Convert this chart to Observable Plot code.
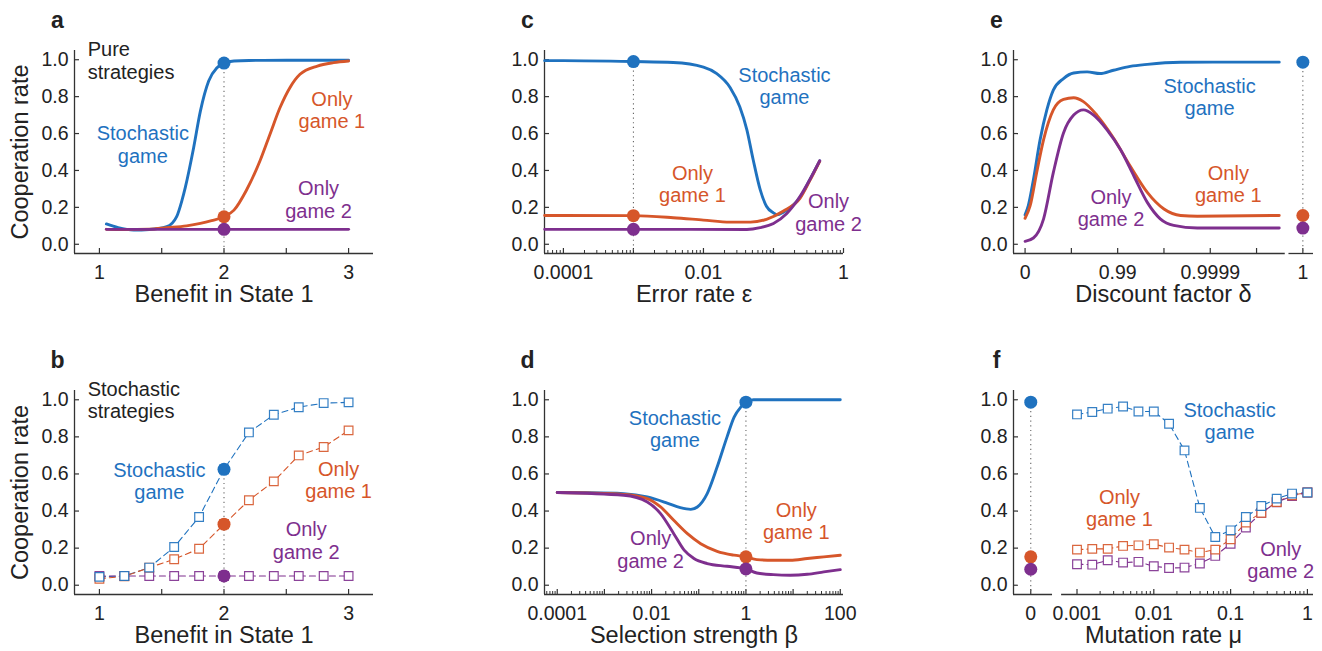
<!DOCTYPE html>
<html><head><meta charset="utf-8">
<script src="https://cdn.jsdelivr.net/npm/d3@7"></script>
<script src="https://cdn.jsdelivr.net/npm/@observablehq/plot@0.6"></script>
<style>
body{margin:0;background:#fff;}
#fig{position:relative;width:1322px;height:651px;overflow:hidden;background:#fff;}
#fig svg{position:absolute;overflow:visible;}
</style></head><body><div id="fig"></div>
<script>
const FONT = '"Liberation Sans", Arial, Helvetica, sans-serif';
const COL = {stoch: "#1f72bf", g1: "#d6562a", g2: "#7e2f8e", ink: "#222222", axis: "#333333"};

const yTicks = [0, 0.2, 0.4, 0.6, 0.8, 1.0];
const yDomain = [-0.05, 1.05];

// ---------- Panel a : pure strategies vs benefit ----------
const aStochX = [1.056, 1.15, 1.275, 1.4, 1.54, 1.62, 1.663, 1.69, 1.757, 1.81, 1.877, 1.944, 2.0, 2.08, 2.2, 2.5, 3.0];
const aStochY = [0.11, 0.09, 0.077, 0.08, 0.095, 0.15, 0.239, 0.31, 0.526, 0.72, 0.885, 0.957, 0.982, 0.993, 0.996, 0.997, 0.997];
const aG1X = [1.056, 1.2, 1.4, 1.54, 1.7, 1.81, 1.9, 2.0, 2.08, 2.18, 2.29, 2.37, 2.45, 2.53, 2.61, 2.75, 2.88, 3.0];
const aG1Y = [0.081, 0.08, 0.082, 0.09, 0.1, 0.113, 0.128, 0.149, 0.185, 0.293, 0.454, 0.598, 0.741, 0.85, 0.921, 0.966, 0.984, 0.993];
const aG2X = [1.056, 2.0, 3.0];
const aG2Y = [0.081, 0.081, 0.081];
const aMarkX = 2;
const aDots = [0.982, 0.149, 0.081];

// ---------- Panel b : stochastic strategies vs benefit ----------
const bBenefit = [1, 1.2, 1.4, 1.6, 1.8, 2.0, 2.2, 2.4, 2.6, 2.8, 3.0];
const bStoch = [0.045, 0.05, 0.095, 0.206, 0.368, 0.625, 0.824, 0.919, 0.96, 0.982, 0.986];
const bG1 = [0.035, 0.048, 0.095, 0.14, 0.197, 0.329, 0.458, 0.56, 0.70, 0.745, 0.835];
const bG2 = [0.05, 0.05, 0.05, 0.05, 0.05, 0.05, 0.05, 0.05, 0.05, 0.05, 0.05];
const bMarkX = 2;
const bDots = [0.625, 0.329, 0.05];

// ---------- Panel c : error rate ----------
const cStochX = [5.4e-5, 1e-4, 1e-3, 3.7e-3, 0.01, 0.0155, 0.024, 0.033, 0.0417, 0.0513, 0.0646, 0.0794, 0.1, 0.112, 0.139, 0.195, 0.24, 0.33, 0.457];
const cStochY = [0.995, 0.995, 0.99, 0.985, 0.96, 0.925, 0.85, 0.745, 0.62, 0.458, 0.296, 0.206, 0.17, 0.16, 0.174, 0.215, 0.255, 0.35, 0.452];
const cG1X = [5.4e-5, 1e-4, 1e-3, 3.7e-3, 0.01, 0.024, 0.047, 0.0794, 0.139, 0.24, 0.33, 0.457];
const cG1Y = [0.156, 0.156, 0.155, 0.144, 0.131, 0.12, 0.12, 0.135, 0.18, 0.25, 0.345, 0.45];
const cG2X = [5.4e-5, 1e-3, 0.0417, 0.0646, 0.1, 0.155, 0.24, 0.33, 0.457];
const cG2Y = [0.081, 0.081, 0.08, 0.09, 0.113, 0.167, 0.26, 0.35, 0.452];
const cMarkX = 0.001;
const cDots = [0.99, 0.155, 0.081];

// ---------- Panel d : selection strength ----------
const dStochX = [1e-4, 5e-4, 2.57e-3, 8.1e-3, 0.0214, 0.0407, 0.0676, 0.0933, 0.151, 0.245, 0.398, 0.562, 0.776, 1, 1.445, 100];
const dStochY = [0.50, 0.499, 0.494, 0.476, 0.443, 0.418, 0.409, 0.422, 0.494, 0.637, 0.80, 0.907, 0.96, 0.987, 1.0, 1.0];
const dG1X = [1e-4, 2.57e-3, 8.1e-3, 0.0155, 0.0295, 0.0575, 0.11, 0.245, 0.562, 1, 1.7, 3.8, 8.7, 20, 44.7, 100];
const dG1Y = [0.50, 0.49, 0.467, 0.422, 0.35, 0.278, 0.224, 0.183, 0.162, 0.153, 0.138, 0.135, 0.135, 0.144, 0.153, 0.162];
const dG2X = [1e-4, 2.57e-3, 8.1e-3, 0.0155, 0.0295, 0.049, 0.079, 0.151, 0.398, 1, 1.7, 3.8, 8.7, 20, 44.7, 100];
const dG2Y = [0.50, 0.485, 0.449, 0.386, 0.278, 0.189, 0.144, 0.117, 0.102, 0.088, 0.066, 0.057, 0.054, 0.059, 0.072, 0.084];
const dMarkX = 1;
const dDots = [0.987, 0.153, 0.088];

// ---------- Panel e : discount factor (axis position u = -log10(1 - delta); delta = 1 drawn at u = 6) ----------
const eStochU = [0, 0.07, 0.18, 0.325, 0.47, 0.61, 0.83, 1.05, 1.34, 1.62, 1.91, 2.27, 2.64, 3.36, 4.08, 5.49];
const eStochY = [0.16, 0.21, 0.35, 0.567, 0.728, 0.835, 0.898, 0.928, 0.934, 0.925, 0.943, 0.964, 0.975, 0.986, 0.987, 0.987];
const eG1U = [0, 0.11, 0.25, 0.4, 0.61, 0.83, 1.05, 1.26, 1.55, 1.91, 2.27, 2.64, 3.0, 3.36, 3.72, 5.49];
const eG1Y = [0.141, 0.209, 0.388, 0.567, 0.728, 0.785, 0.794, 0.773, 0.70, 0.576, 0.424, 0.281, 0.191, 0.156, 0.152, 0.156];
const eG2U = [0, 0.18, 0.4, 0.61, 0.83, 1.05, 1.26, 1.48, 1.77, 2.06, 2.35, 2.64, 2.92, 3.21, 3.72, 5.49];
const eG2Y = [0.016, 0.034, 0.138, 0.388, 0.603, 0.70, 0.728, 0.70, 0.62, 0.513, 0.37, 0.227, 0.138, 0.102, 0.088, 0.088];
const eMarkU = 6;
const eDots = [0.987, 0.156, 0.088];
const eTickU = [0, 1, 2, 3, 4, 5, 6];
const eTickLabels = {0: "0", 2: "0.99", 4: "0.9999", 6: "1"};

// ---------- Panel f : mutation rate ----------
const fMu = [0.001, 0.00158, 0.00251, 0.00398, 0.00631, 0.01, 0.0158, 0.0251, 0.0398, 0.0631, 0.1, 0.158, 0.251, 0.398, 0.631, 1];
const fStoch = [0.921, 0.934, 0.952, 0.964, 0.937, 0.937, 0.871, 0.727, 0.417, 0.26, 0.296, 0.368, 0.427, 0.467, 0.494, 0.50];
const fG1 = [0.192, 0.196, 0.196, 0.212, 0.215, 0.221, 0.203, 0.192, 0.176, 0.192, 0.248, 0.338, 0.391, 0.449, 0.485, 0.50];
const fG2 = [0.113, 0.111, 0.135, 0.122, 0.126, 0.102, 0.093, 0.095, 0.117, 0.158, 0.224, 0.311, 0.39, 0.447, 0.481, 0.50];
const fZeroPos = 2.5e-4; // axis position where mu = 0 is drawn
const fDots = [0.987, 0.153, 0.086];

// ---------- annotations ----------
const aLabels = [
  {t: "Pure\nstrategies", x: 0.906, y: 0.996, c: "ink", a: "start"},
  {t: "Stochastic\ngame", x: 1.348, y: 0.541, c: "stoch"},
  {t: "Only\ngame 1", x: 2.866, y: 0.728, c: "g1"},
  {t: "Only\ngame 2", x: 2.759, y: 0.243, c: "g2"}];
const bLabels = [
  {t: "Stochastic\nstrategies", x: 0.906, y: 0.999, c: "ink", a: "start"},
  {t: "Stochastic\ngame", x: 1.481, y: 0.562, c: "stoch"},
  {t: "Only\ngame 1", x: 2.92, y: 0.567, c: "g1"},
  {t: "Only\ngame 2", x: 2.66, y: 0.242, c: "g2"}];
const cLabels = [
  {t: "Stochastic\ngame", x: 0.1435, y: 0.86, c: "stoch"},
  {t: "Only\ngame 1", x: 0.00697, y: 0.329, c: "g1"},
  {t: "Only\ngame 2", x: 0.611, y: 0.173, c: "g2"}];
const dLabels = [
  {t: "Stochastic\ngame", x: 0.0313, y: 0.842, c: "stoch"},
  {t: "Only\ngame 1", x: 11.67, y: 0.348, c: "g1"},
  {t: "Only\ngame 2", x: 0.00955, y: 0.193, c: "g2"}];
const eLabels = [
  {t: "Stochastic\ngame", x: 3.986, y: 0.80, c: "stoch"},
  {t: "Only\ngame 1", x: 4.39, y: 0.326, c: "g1"},
  {t: "Only\ngame 2", x: 1.856, y: 0.198, c: "g2"}];
const fLabels = [
  {t: "Stochastic\ngame", x: 0.097, y: 0.886, c: "stoch"},
  {t: "Only\ngame 1", x: 0.00357, y: 0.418, c: "g1"},
  {t: "Only\ngame 2", x: 0.449, y: 0.136, c: "g2"}];

// ---------- helpers ----------
const rows = (xs, ys) => xs.map((x, i) => ({x, y: ys[i]}));
const keys = ["stoch", "g1", "g2"];
function logMinor(lo, hi) {
  const out = [];
  for (let k = lo; k <= hi; k++) for (let m = 2; m <= 9; m++) out.push(m * Math.pow(10, k));
  return out;
}
const fmtLog = d => d >= 1 ? String(d) : d.toFixed(Math.round(-Math.log10(d)));

function panel(cfg) {
  const marks = [];
  const xd = cfg.xDomain;
  // axis lines
  marks.push(Plot.ruleX([xd[0]], {stroke: COL.axis, strokeWidth: 1.3}));
  if (cfg.xSegments) {
    for (const [x1, x2] of cfg.xSegments)
      marks.push(Plot.ruleY([yDomain[0]], {x1: () => x1, x2: () => x2, stroke: COL.axis, strokeWidth: 1.3}));
  } else {
    marks.push(Plot.ruleY([yDomain[0]], {stroke: COL.axis, strokeWidth: 1.3}));
  }
  // y axis: ticks inward + labels
  marks.push(Plot.axisY({anchor: "left", ticks: yTicks, tickSize: 5, dx: 5, text: null, label: null, stroke: COL.axis, strokeWidth: 1.2}));
  marks.push(Plot.axisY({anchor: "left", ticks: yTicks, tickSize: 0, tickPadding: 6, tickFormat: d3.format(".1f"), fontSize: 19.5, fill: COL.ink, label: null}));
  // x axis ticks
  marks.push(Plot.axisX({anchor: "bottom", ticks: cfg.xMajor, tickSize: 5, dy: -5, text: null, label: null, stroke: COL.axis, strokeWidth: 1.2}));
  if (cfg.xMinor)
    marks.push(Plot.axisX({anchor: "bottom", ticks: cfg.xMinor, tickSize: 3, dy: -3, text: null, label: null, stroke: COL.axis, strokeWidth: 1}));
  marks.push(Plot.axisX({anchor: "bottom", ticks: cfg.xLabelTicks, tickSize: 0, tickPadding: 12, tickFormat: cfg.xFormat, fontSize: 19.5, fill: COL.ink, label: null}));
  // dotted marker line from top dot down to axis
  marks.push(Plot.ruleX([{x: cfg.markX, y: cfg.dots[0]}], {x: "x", y1: "y", y2: () => yDomain[0], stroke: "#666", strokeWidth: 1.1, strokeDasharray: "1.2,3.5"}));
  // series
  if (cfg.lines) {
    cfg.lines.forEach((s, i) => marks.push(Plot.line(s, {x: "x", y: "y", stroke: COL[keys[i]], strokeWidth: 2.9, curve: "monotone-x"})));
  }
  if (cfg.squares) {
    cfg.squares.forEach((s, i) => marks.push(Plot.line(s, {x: "x", y: "y", stroke: COL[keys[i]], strokeWidth: 1.1, strokeDasharray: "6,4"})));
    [2, 1, 0].forEach(i => marks.push(Plot.dot(cfg.squares[i], {x: "x", y: "y", symbol: "square", r: 4.9, fill: "white", stroke: COL[keys[i]], strokeWidth: 1.2, strokeOpacity: 0.9})));
  }
  // filled dots
  marks.push(Plot.dot(cfg.dots.map((y, i) => ({x: cfg.markX, y, c: keys[i]})), {x: "x", y: "y", r: 6.5, fill: d => COL[d.c], stroke: "none"}));
  // annotations (centred, and left-aligned ones separately)
  const centred = cfg.labels.filter(d => d.a !== "start");
  const leftAl = cfg.labels.filter(d => d.a === "start");
  marks.push(Plot.text(centred, {x: "x", y: "y", text: "t", fill: d => COL[d.c], textAnchor: "middle", fontSize: 20, lineHeight: 1.12, lineAnchor: "middle"}));
  if (leftAl.length)
    marks.push(Plot.text(leftAl, {x: "x", y: "y", text: "t", fill: d => COL[d.c], textAnchor: "start", fontSize: 20, lineHeight: 1.12, lineAnchor: "middle"}));
  // panel letter
  marks.push(Plot.text([cfg.letter], {text: d => d, frameAnchor: "top-left", dx: -17, dy: -30, fontSize: 23, fontWeight: "bold", fill: COL.ink, textAnchor: "middle", lineAnchor: "middle"}));
  // axis titles
  marks.push(Plot.text([cfg.xlabel], {text: d => d, frameAnchor: "bottom", dy: 41, fontSize: 23.5, fill: COL.ink, textAnchor: "middle", lineAnchor: "middle"}));
  if (cfg.ylabel)
    marks.push(Plot.text([cfg.ylabel], {text: d => d, frameAnchor: "left", dx: -54, rotate: -90, fontSize: 23.5, fill: COL.ink, textAnchor: "middle", lineAnchor: "middle"}));

  const svg = Plot.plot({
    width: cfg.width, height: cfg.height,
    marginLeft: cfg.mL, marginRight: cfg.mR, marginTop: cfg.mT, marginBottom: cfg.mB,
    x: {type: cfg.xType || "linear", domain: xd},
    y: {domain: yDomain},
    style: {fontFamily: FONT, fontSize: "19px", color: COL.ink, background: "transparent", overflow: "visible"},
    marks
  });
  svg.style.left = cfg.left + "px";
  svg.style.top = cfg.top + "px";
  document.getElementById("fig").appendChild(svg);
}

const TOP = {top: 0, height: 325, mT: 50, mB: 72};
const BOT = {top: 340, height: 310, mT: 50, mB: 56};

panel({...TOP, left: 0, width: 440, mL: 74, mR: 67, xDomain: [0.8, 3.2],
  xMajor: [1, 1.5, 2, 2.5, 3], xLabelTicks: [1, 2, 3], xFormat: d3.format("d"),
  lines: [rows(aStochX, aStochY), rows(aG1X, aG1Y), rows(aG2X, aG2Y)],
  markX: aMarkX, dots: aDots, labels: aLabels, letter: "a",
  xlabel: "Benefit in State 1", ylabel: "Cooperation rate"});

panel({...BOT, left: 0, width: 440, mL: 74, mR: 67, xDomain: [0.8, 3.2],
  xMajor: [1, 1.5, 2, 2.5, 3], xLabelTicks: [1, 2, 3], xFormat: d3.format("d"),
  squares: [rows(bBenefit, bStoch), rows(bBenefit, bG1), rows(bBenefit, bG2)],
  markX: bMarkX, dots: bDots, labels: bLabels, letter: "b",
  xlabel: "Benefit in State 1", ylabel: "Cooperation rate"});

panel({...TOP, left: 440, width: 440, mL: 104, mR: 37, xType: "log", xDomain: [5.37e-5, 1],
  xMajor: [1e-4, 1e-3, 1e-2, 1e-1, 1], xMinor: logMinor(-5, -1).filter(v => v > 5.37e-5 && v < 1),
  xLabelTicks: [1e-4, 1e-2, 1], xFormat: fmtLog,
  lines: [rows(cStochX, cStochY), rows(cG1X, cG1Y), rows(cG2X, cG2Y)],
  markX: cMarkX, dots: cDots, labels: cLabels, letter: "c",
  xlabel: "Error rate ε"});

panel({...BOT, left: 440, width: 440, mL: 104, mR: 37, xType: "log", xDomain: [5.37e-5, 117],
  xMajor: [1e-4, 1e-3, 1e-2, 1e-1, 1, 10, 100], xMinor: logMinor(-5, 2).filter(v => v > 5.37e-5 && v < 117),
  xLabelTicks: [1e-4, 1e-2, 1, 100], xFormat: fmtLog,
  lines: [rows(dStochX, dStochY), rows(dG1X, dG1Y), rows(dG2X, dG2Y)],
  markX: dMarkX, dots: dDots, labels: dLabels, letter: "d",
  xlabel: "Selection strength β"});

panel({...TOP, left: 880, width: 442, mL: 133, mR: 9, xDomain: [-0.25, 6.23],
  xSegments: [[-0.25, 5.62], [5.7, 6.23]],
  xMajor: eTickU, xLabelTicks: [0, 2, 4, 6], xFormat: d => eTickLabels[d],
  lines: [rows(eStochU, eStochY), rows(eG1U, eG1Y), rows(eG2U, eG2Y)],
  markX: eMarkU, dots: eDots, labels: eLabels, letter: "e",
  xlabel: "Discount factor δ"});

panel({...BOT, left: 880, width: 442, mL: 133, mR: 9, xType: "log", xDomain: [1.49e-4, 1.2],
  xSegments: [[1.49e-4, 4.8e-4], [6.3e-4, 1.2]],
  xMajor: [fZeroPos, 1e-3, 1e-2, 1e-1, 1], xMinor: logMinor(-3, -1),
  xLabelTicks: [fZeroPos, 1e-3, 1e-2, 1e-1, 1], xFormat: d => d === fZeroPos ? "0" : fmtLog(d),
  squares: [rows(fMu, fStoch), rows(fMu, fG1), rows(fMu, fG2)],
  markX: fZeroPos, dots: fDots, labels: fLabels, letter: "f",
  xlabel: "Mutation rate μ"});
</script></body></html>
